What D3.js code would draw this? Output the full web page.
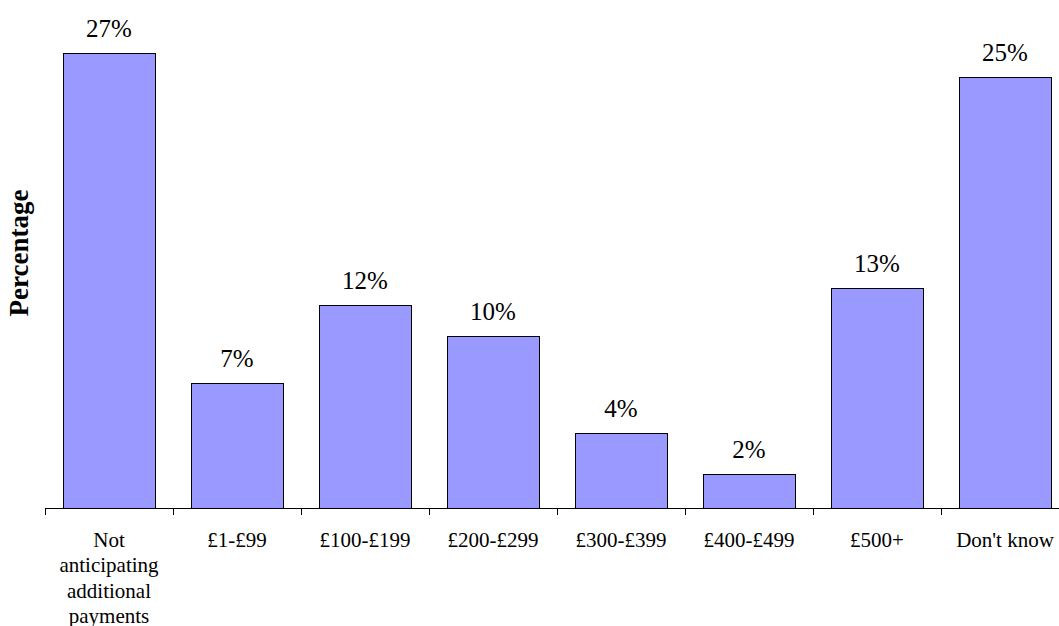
<!DOCTYPE html>
<html>
<head>
<meta charset="utf-8">
<script src="https://cdn.jsdelivr.net/npm/d3@7"></script>
<style>
  body { margin: 0; background: #fff; }
</style>
</head>
<body>
<div id="chart"></div>
<script>
// data
var categories = ["Not anticipating additional payments", "£1-£99", "£100-£199", "£200-£299",
                  "£300-£399", "£400-£499", "£500+", "Don't know"];
var categoryLines = [["Not", "anticipating", "additional", "payments"], ["£1-£99"], ["£100-£199"],
                     ["£200-£299"], ["£300-£399"], ["£400-£499"], ["£500+"], ["Don't know"]];
var values = [27, 7.4, 12.05, 10.2, 4.45, 2.0, 13.05, 25.6];
var valueLabels = ["27%", "7%", "12%", "10%", "4%", "2%", "13%", "25%"];

var width = 1059, height = 626;
var baseY = 508;
var serif = "'Liberation Serif', 'Times New Roman', Times, serif";

var svg = d3.select("#chart")
    .append("svg")
    .attr("width", width)
    .attr("height", height)
    .style("font-family", serif);

var x = d3.scaleBand()
    .domain(categories)
    .range([45, 1069])
    .paddingInner(0.28125)
    .paddingOuter(0.140625);

var y = d3.scaleLinear()
    .domain([0, 27])
    .range([baseY, 53]);

// Bars
svg.append("g")
    .selectAll("rect")
    .data(values)
    .enter().append("rect")
    .attr("x", function(d, i) { return x(categories[i]) + 0.5; })
    .attr("y", function(d) { return Math.round(y(d)) + 0.5; })
    .attr("width", x.bandwidth())
    .attr("height", function(d) { return baseY - Math.round(y(d)); })
    .attr("fill", "#9999ff")
    .attr("stroke", "#000")
    .attr("stroke-width", 1);

// value labels
svg.append("g")
    .selectAll("text")
    .data(values)
    .enter().append("text")
    .attr("x", function(d, i) { return x(categories[i]) + x.bandwidth() / 2; })
    .attr("y", function(d) { return y(d) - 16; })
    .attr("text-anchor", "middle")
    .style("font-size", "25px")
    .attr("fill", "#000")
    .text(function(d, i) { return valueLabels[i]; });

// x axis line + ticks on category boundaries
var axis = svg.append("g");
axis.append("line")
    .attr("x1", 45).attr("x2", 1069)
    .attr("y1", baseY + 0.5).attr("y2", baseY + 0.5)
    .attr("stroke", "#000");

var bounds = categories.map(function(c) { return x(c) - x.step() * x.paddingOuter(); });
bounds.push(x.range()[1]);
axis.selectAll(".tick")
    .data(bounds)
    .enter().append("line")
    .attr("x1", function(d) { return Math.round(d) + 0.5; })
    .attr("x2", function(d) { return Math.round(d) + 0.5; })
    .attr("y1", baseY)
    .attr("y2", baseY + 7)
    .attr("stroke", "#000");

// category labels
axis.selectAll(".lbl")
    .data(categories)
    .enter().append("text")
    .attr("text-anchor", "middle")
    .style("font-size", "21px")
    .attr("fill", "#000")
    .each(function(c, i) {
        var t = d3.select(this);
        categoryLines[i].forEach(function(line, j) {
            t.append("tspan")
                .attr("x", x(c) + x.bandwidth() / 2)
                .attr("y", baseY + 39 + j * 25.3)
                .text(line);
        });
    });

// y title
svg.append("text")
    .attr("transform", "translate(28,253) rotate(-90)")
    .attr("text-anchor", "middle")
    .style("font-size", "27px")
    .style("font-weight", "bold")
    .text("Percentage");
</script>
</body>
</html>
